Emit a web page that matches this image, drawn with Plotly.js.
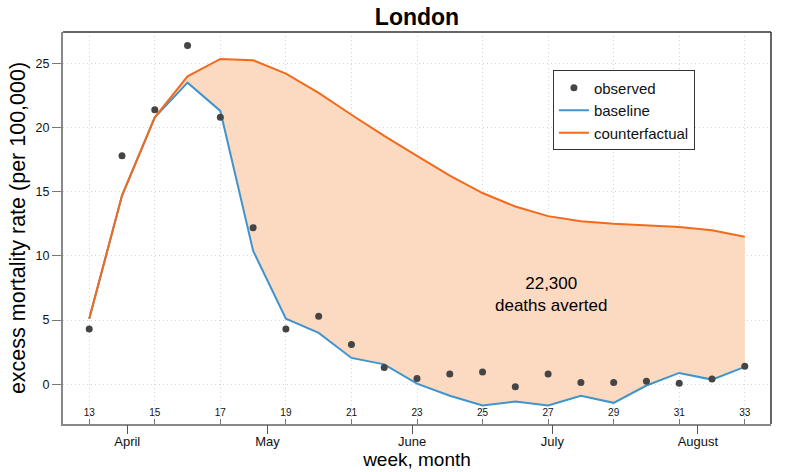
<!DOCTYPE html>
<html>
<head>
<meta charset="utf-8">
<script src="https://cdn.plot.ly/plotly-3.0.1.min.js"></script>
<style>html,body{margin:0;padding:0;background:#fff;}#chart{width:787px;height:472px;}</style>
</head>
<body>
<div id="chart"></div>
<script>
const weeks = [13,14,15,16,17,18,19,20,21,22,23,24,25,26,27,28,29,30,31,32,33];
const observed = [4.3,17.8,21.4,26.4,20.8,12.2,4.3,5.3,3.1,1.3,0.45,0.8,0.95,-0.2,0.8,0.13,0.13,0.23,0.08,0.4,1.4];
const baseline = [5.1,14.7,20.8,23.5,21.3,10.4,5.1,4.0,2.05,1.55,0.05,-0.9,-1.65,-1.35,-1.65,-0.9,-1.45,-0.1,0.88,0.36,1.35];
const counterfactual = [5.1,14.7,20.8,24.0,25.35,25.25,24.2,22.7,21.0,19.35,17.8,16.25,14.9,13.85,13.1,12.7,12.5,12.35,12.25,12.0,11.5];
const weekTicks = [13,15,17,19,21,23,25,27,29,31,33];
const monthPos = [14.16,18.44,22.85,27.13,31.57];
const monthNames = ["April","May","June","July","August"];
const yTicks = [0,5,10,15,20,25];
const noteText = "22,300<br>deaths averted";
const notePos = [27.1, 7.0];

const FONT = '"Liberation Sans", Arial, Helvetica, sans-serif';
const BLUE = '#3f95cb';
const ORANGE = '#f26a1b';
const FILL = 'rgba(252,217,193,1)';
const GRID_DASH = '1px,3px';

const traces = [
  {x: weeks, y: baseline, type: 'scatter', mode: 'lines', name: 'baseline',
   line: {color: BLUE, width: 2}, legendrank: 2},
  {x: weeks, y: counterfactual, type: 'scatter', mode: 'lines', name: 'fill',
   line: {width: 0, color: FILL}, fill: 'tonexty', fillcolor: FILL, showlegend: false, hoverinfo: 'skip'},
  {x: weeks, y: counterfactual, type: 'scatter', mode: 'lines', name: 'counterfactual',
   line: {color: ORANGE, width: 2}, legendrank: 3},
  {x: weeks, y: observed, type: 'scatter', mode: 'markers', name: 'observed',
   marker: {color: '#454545', size: 7}, legendrank: 1},
  {x: monthPos, y: monthPos.map(() => null), xaxis: 'x2', type: 'scatter', mode: 'markers', showlegend: false, hoverinfo: 'skip'}
];

const layout = {
  width: 787, height: 472,
  margin: {l: 63, r: 16, t: 32, b: 48},
  paper_bgcolor: '#fff', plot_bgcolor: '#fff',
  font: {family: FONT, color: '#111'},
  title: {text: '<b>London</b>', font: {size: 23, family: FONT, color: '#000'},
          x: 0.5, xref: 'paper', y: 0.965, yref: 'container', xanchor: 'center', yanchor: 'middle'},
  xaxis: {
    range: [12.2, 33.8], tickvals: weekTicks, ticktext: weekTicks.map(String),
    ticks: 'inside', ticklen: 5, tickcolor: '#777', tickwidth: 1,
    ticklabelposition: 'inside', tickfont: {size: 10, color: '#111'},
    showgrid: true, gridcolor: '#d4d4d4', griddash: GRID_DASH, gridwidth: 1,
    showline: true, linecolor: '#888', linewidth: 2, zeroline: false
  },
  xaxis2: {
    range: [12.2, 33.8], overlaying: 'x', side: 'bottom', anchor: 'y',
    tickvals: monthPos, ticktext: monthNames,
    ticks: 'outside', ticklen: 9, tickcolor: '#555', tickwidth: 1,
    ticklabelstandoff: -4,
    tickfont: {size: 13, color: '#111'}, showgrid: false, zeroline: false, showline: false,
    title: {text: 'week, month', font: {size: 19, color: '#000'}, standoff: 0}
  },
  yaxis: {
    range: [-3.1, 27.45], tickvals: yTicks, ticktext: yTicks.map(String),
    ticks: 'outside', ticklen: 9, tickcolor: '#777', tickwidth: 1,
    tickfont: {size: 12.5, color: '#111'},
    showgrid: true, gridcolor: '#d4d4d4', griddash: GRID_DASH, gridwidth: 1,
    showline: true, linecolor: '#888', linewidth: 2, zeroline: false,
    title: {text: 'excess mortality rate (per 100,000)', font: {size: 21.5, color: '#000'}, standoff: 4}
  },
  legend: {
    x: 0.692, y: 0.902, xanchor: 'left', yanchor: 'top', traceorder: 'normal',
    bgcolor: '#fff', bordercolor: '#333', borderwidth: 1,
    font: {size: 15, color: '#111'}, itemwidth: 30, tracegroupgap: 0
  },
  shapes: [
    {type: 'line', xref: 'paper', yref: 'paper', x0: 0, x1: 1, y0: 1, y1: 1, line: {color: '#333', width: 1.5}},
    {type: 'line', xref: 'paper', yref: 'paper', x0: 1, x1: 1, y0: 0, y1: 1, line: {color: '#333', width: 1.5}}
  ],
  annotations: [
    {x: notePos[0], y: notePos[1], xref: 'x', yref: 'y', text: noteText, showarrow: false,
     font: {size: 17, color: '#000'}, align: 'center'}
  ],
  showlegend: true
};

Plotly.newPlot('chart', traces, layout, {displayModeBar: false, staticPlot: true});
</script>
</body>
</html>
